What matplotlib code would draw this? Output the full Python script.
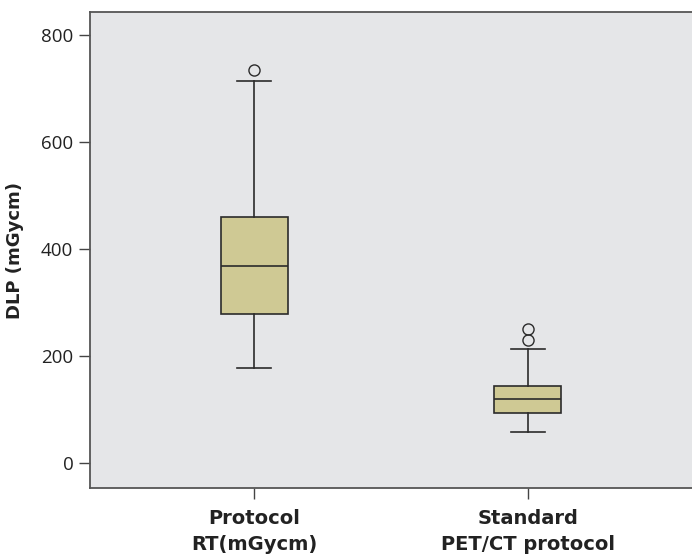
import matplotlib
matplotlib.use("Agg")
import matplotlib.pyplot as plt

# box statistics
groups = ["Protocol\nRT(mGycm)", "Standard\nPET/CT protocol"]
q1 = [279, 94]
medians = [367, 120]
q3 = [459, 144]
whisker_lo = [178, 58]
whisker_hi = [714, 212]
outliers = [[734], [230, 250]]

plt.rcParams['font.family'] = ['Open Sans', 'DejaVu Sans']
bold_font = ['DejaVu Sans']

stats = []
for i in range(len(groups)):
    stats.append({"med": medians[i], "q1": q1[i], "q3": q3[i],
                  "whislo": whisker_lo[i], "whishi": whisker_hi[i],
                  "fliers": outliers[i]})

fig = plt.figure(figsize=(6.92, 5.59), dpi=100)
ax = fig.add_axes([0.130, 0.127, 0.870, 0.851])
ax.set_facecolor('#e5e6e8')

line_c = '#2b2b2b'
ax.bxp(stats, positions=[1, 2], widths=0.245, patch_artist=True,
       boxprops=dict(facecolor='#cfc994', edgecolor=line_c, linewidth=1.2),
       medianprops=dict(color=line_c, linewidth=1.2),
       whiskerprops=dict(color=line_c, linewidth=1.2),
       capprops=dict(color=line_c, linewidth=1.2),
       capwidths=0.125,
       flierprops=dict(marker='o', markerfacecolor='none',
                       markeredgecolor=line_c, markersize=8, markeredgewidth=1.0))

ax.set_xlim(0.4, 2.6)
ax.set_ylim(-47, 842)
ax.set_yticks([0, 200, 400, 600, 800])
ax.set_xticks([1, 2])
ax.set_xticklabels(groups, fontsize=14, fontweight='bold', family=bold_font,
                   linespacing=1.5)
ax.tick_params(axis='y', labelsize=13.5, length=8, width=1, color='#444444',
               labelcolor='#222222', pad=4)
ax.tick_params(axis='x', length=8, width=1, color='#444444', labelcolor='#222222', pad=7)
ax.set_ylabel('DLP (mGycm)', fontsize=13, fontweight='bold', family=bold_font,
              color='#222222', labelpad=12)

for s in ['left', 'top', 'bottom']:
    ax.spines[s].set_color('#555555')
    ax.spines[s].set_linewidth(1.3)
ax.spines['right'].set_visible(False)

fig.savefig('out.png', dpi=100)
